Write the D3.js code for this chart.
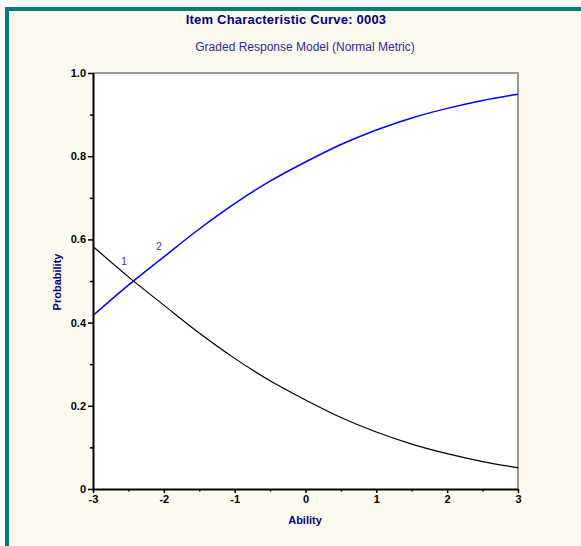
<!DOCTYPE html>
<html><head><meta charset="utf-8">
<script src="https://cdn.jsdelivr.net/npm/d3@7"></script>
<style>html,body{margin:0;padding:0;background:#fff;}svg{display:block;}</style>
</head><body><svg id="c" width="581" height="546"></svg>
<script>
const abilities = [-3, -2.5, -2, -1.5, -1, -0.5, 0, 0.5, 1, 1.5, 2, 2.5, 3];
const cat1 = [0.583, 0.510, 0.442, 0.375, 0.314, 0.260, 0.214, 0.172, 0.137, 0.108, 0.085, 0.066, 0.051];
const cat2 = [0.417, 0.490, 0.558, 0.625, 0.686, 0.740, 0.786, 0.828, 0.863, 0.892, 0.915, 0.934, 0.949];
const seriesNames = ["1", "2"];
const xTicks = [-3, -2, -1, 0, 1, 2, 3];
const xTickLabels = ["-3", "-2", "-1", "0", "1", "2", "3"];
const yTicks = [0, 0.2, 0.4, 0.6, 0.8, 1.0];
const yTickLabels = ["0", "0.2", "0.4", "0.6", "0.8", "1.0"];
const title = "Item Characteristic Curve: 0003";
const subtitle = "Graded Response Model (Normal Metric)";

const svg = d3.select("#c");
const teal = "#007f7a", cream = "#fef9ee", navy = "#000080";
svg.append("rect").attr("x", 5).attr("y", 7).attr("width", 576).attr("height", 539).attr("fill", teal);
svg.append("rect").attr("x", 9).attr("y", 11).attr("width", 572).attr("height", 535).attr("fill", cream);

const L = 93, R = 518, T = 73, B = 489;
const x = d3.scaleLinear().domain([-3, 3]).range([L, R]);
const y = d3.scaleLinear().domain([0, 1]).range([B, T]);

svg.append("rect").attr("x", L).attr("y", T).attr("width", R - L).attr("height", B - T).attr("fill", "#fff");
svg.append("path").attr("d", `M${L},${T}H${R}V${B}`).attr("fill", "none").attr("stroke", "#7a7a7a").attr("stroke-width", 1.5);

const line = d3.line().x((d, i) => x(abilities[i])).y(d => y(d)).curve(d3.curveMonotoneX);
const g = svg.append("g");
g.append("path").datum(cat1).attr("d", line).attr("fill", "none").attr("stroke", "#000").attr("stroke-width", 1.2);
g.append("path").datum(cat2).attr("d", line).attr("fill", "none").attr("stroke", "#0000ff").attr("stroke-width", 1.5);

const font = "Liberation Sans, Arial, sans-serif";
svg.append("text").attr("x", 124).attr("y", 265).attr("text-anchor", "middle")
  .attr("font-family", font).attr("font-size", 10).attr("fill", "#33339a").text(seriesNames[0]);
svg.append("text").attr("x", 159).attr("y", 250).attr("text-anchor", "middle")
  .attr("font-family", font).attr("font-size", 10).attr("fill", "#33339a").text(seriesNames[1]);

const yAxis = d3.axisLeft(y).tickValues(yTicks).tickSize(5).tickPadding(2)
  .tickFormat((d, i) => yTickLabels[i]);
const ya = svg.append("g").attr("transform", `translate(${L},0)`).call(yAxis);
const yMinor = svg.append("g").attr("transform", `translate(${L},0)`)
  .call(d3.axisLeft(y).tickValues([0.1, 0.3, 0.5, 0.7, 0.9]).tickSize(3).tickFormat(""));
yMinor.select(".domain").remove();
const xAxis = d3.axisBottom(x).tickValues(xTicks).tickSize(4).tickPadding(2).tickFormat((d, i) => xTickLabels[i]);
const xa = svg.append("g").attr("transform", `translate(0,${B})`).call(xAxis);
const xMinor = svg.append("g").attr("transform", `translate(0,${B})`)
  .call(d3.axisBottom(x).tickValues([-2.5, -1.5, -0.5, 0.5, 1.5, 2.5]).tickSize(2.5).tickFormat(""));
xMinor.select(".domain").remove();
[ya, xa, yMinor, xMinor].forEach(a => {
  a.selectAll(".domain").attr("stroke", "#000").attr("stroke-width", 2);
  a.selectAll(".tick line").attr("stroke", "#000").attr("stroke-width", 1.5);
  a.selectAll("text").attr("font-family", font).attr("font-size", 11).attr("font-weight", "bold").attr("fill", "#000");
});
ya.select(".domain").attr("d", `M0.5,${T}V${B}`);
xa.select(".domain").attr("d", `M${L},0.5H${R}`);

svg.append("text").attr("x", 286).attr("y", 24).attr("text-anchor", "middle")
  .attr("font-family", font).attr("font-size", 13).attr("font-weight", "bold").attr("fill", navy)
  .attr("letter-spacing", 0.2).text(title);
svg.append("text").attr("x", 305).attr("y", 51).attr("text-anchor", "middle")
  .attr("font-family", font).attr("font-size", 12).attr("fill", "#2a2aa0").text(subtitle);
svg.append("text").attr("x", 305).attr("y", 524).attr("text-anchor", "middle")
  .attr("font-family", font).attr("font-size", 11).attr("font-weight", "bold").attr("fill", navy).text("Ability");
svg.append("text").attr("transform", "translate(61,282) rotate(-90)").attr("text-anchor", "middle")
  .attr("font-family", font).attr("font-size", 11).attr("font-weight", "bold").attr("fill", navy).text("Probability");
</script></body></html>
